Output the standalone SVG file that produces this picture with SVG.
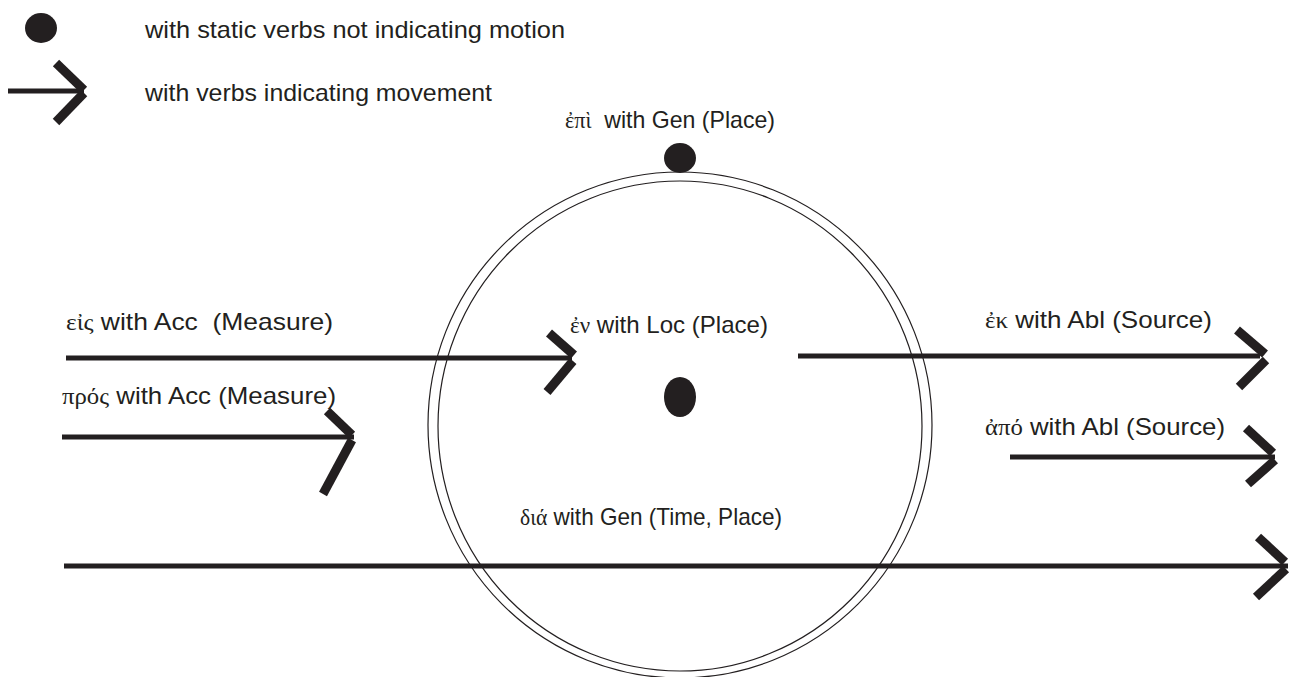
<svg xmlns="http://www.w3.org/2000/svg" width="1293" height="677" viewBox="0 0 1293 677">
<style>
.bg{fill:#ffffff}
.t{font-family:"Liberation Sans",Arial,sans-serif;font-size:24px;fill:#231f20}
.g{font-family:"Liberation Serif","DejaVu Serif",serif;font-size:23px}
.ln{stroke:#231f20;stroke-width:5;fill:none}
.hd{stroke:#231f20;stroke-width:9;fill:none;stroke-linecap:butt}
.ring{stroke:#231f20;stroke-width:1.2;fill:none}
.dot{fill:#231f20}
</style>
<rect class="bg" x="0" y="0" width="1293" height="677"/>
<g id="circle">
<ellipse class="ring" cx="680" cy="425" rx="252" ry="253"/>
<ellipse class="ring" cx="680" cy="426" rx="242" ry="245"/>
</g>
<g id="legend">
<ellipse class="dot" cx="41" cy="28" rx="16" ry="15"/>
<text class="t" x="145" y="38" textLength="420" lengthAdjust="spacingAndGlyphs">with static verbs not indicating motion</text>
<line class="ln" x1="8" y1="91" x2="84" y2="91"/>
<line class="hd" x1="56" y1="63" x2="84" y2="90"/>
<line class="hd" x1="84" y1="93" x2="56" y2="122"/>
<text class="t" x="145" y="101" textLength="347" lengthAdjust="spacingAndGlyphs">with verbs indicating movement</text>
</g>
<g id="epi">
<ellipse class="dot" cx="680" cy="158" rx="16" ry="15"/>
<text class="t" x="565" y="128" textLength="210" lengthAdjust="spacingAndGlyphs" xml:space="preserve"><tspan class="g">ἐπὶ</tspan>  with Gen (Place)</text>
</g>
<g id="en">
<ellipse class="dot" cx="680" cy="397" rx="16" ry="20"/>
<text class="t" x="570" y="333" textLength="198" lengthAdjust="spacingAndGlyphs"><tspan class="g">ἐν</tspan> with Loc (Place)</text>
</g>
<g id="eis"><text class="t" x="66" y="330" textLength="267" lengthAdjust="spacingAndGlyphs" xml:space="preserve"><tspan class="g">εἰς</tspan> with Acc  (Measure)</text></g>
<g id="pros"><text class="t" x="62" y="404" textLength="274" lengthAdjust="spacingAndGlyphs"><tspan class="g">πρός</tspan> with Acc (Measure)</text></g>
<g id="ek"><text class="t" x="985" y="328" textLength="227" lengthAdjust="spacingAndGlyphs"><tspan class="g">ἐκ</tspan> with Abl (Source)</text></g>
<g id="apo"><text class="t" x="985" y="435" textLength="240" lengthAdjust="spacingAndGlyphs"><tspan class="g">ἀπό</tspan> with Abl (Source)</text></g>
<g id="dia"><text class="t" x="520" y="525" textLength="262" lengthAdjust="spacingAndGlyphs"><tspan class="g">διά</tspan> with Gen (Time, Place)</text></g>
<g id="connectors">
<line class="ln" x1="66" y1="358" x2="572" y2="358"/>
<line class="hd" x1="549" y1="333" x2="574" y2="355"/>
<line class="hd" x1="573" y1="361" x2="547" y2="392"/>
<line class="ln" x1="62" y1="437" x2="354" y2="437"/>
<line class="hd" x1="327" y1="411" x2="352" y2="435"/>
<line class="hd" x1="352" y1="440" x2="323" y2="494"/>
<line class="ln" x1="798" y1="356" x2="1260" y2="356"/>
<line class="hd" x1="1237" y1="330" x2="1265" y2="354"/>
<line class="hd" x1="1266" y1="360" x2="1239" y2="387"/>
<line class="ln" x1="1010" y1="457" x2="1275" y2="457"/>
<line class="hd" x1="1246" y1="428" x2="1273" y2="453"/>
<line class="hd" x1="1275" y1="460" x2="1248" y2="484"/>
<line class="ln" x1="64" y1="566" x2="1288" y2="566"/>
<line class="hd" x1="1258" y1="537" x2="1285" y2="562"/>
<line class="hd" x1="1286" y1="569" x2="1256" y2="597"/>
</g>
</svg>
